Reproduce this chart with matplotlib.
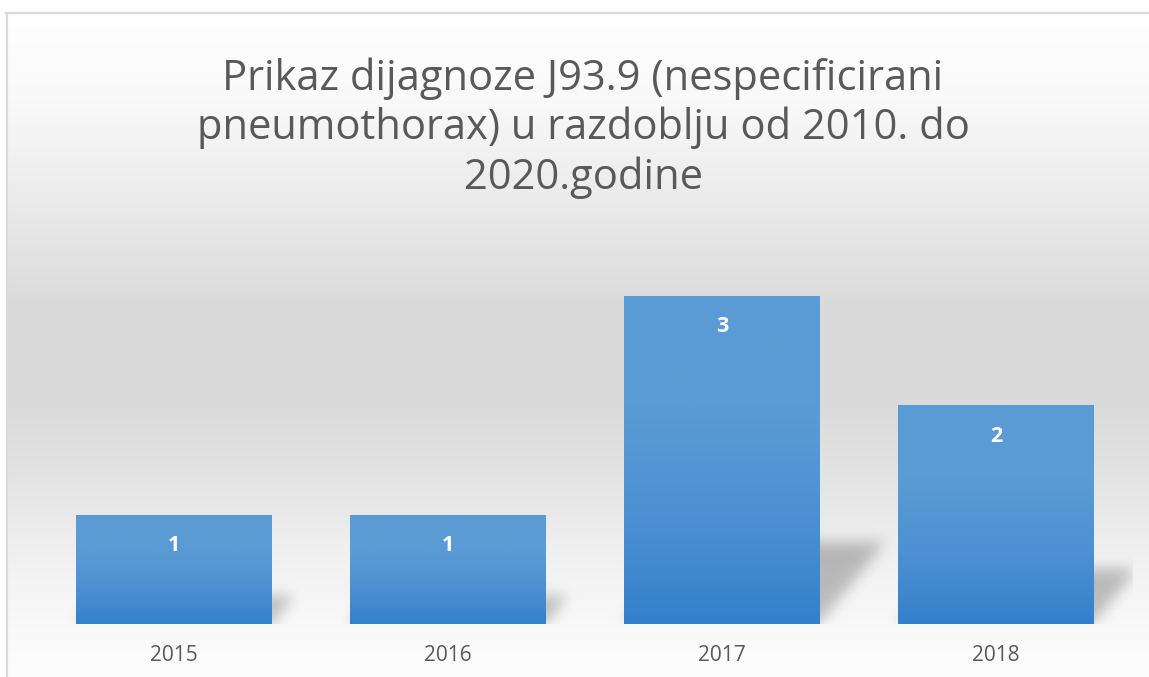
""" Bar chart: J93.9 diagnoses per year """

import numpy as np
import matplotlib
matplotlib.use('Agg')
import matplotlib.pyplot as plt
from matplotlib.colors import LinearSegmentedColormap

years = ['2015', '2016', '2017', '2018']
counts = [1, 1, 3, 2]
title = 'Prikaz dijagnoze J93.9 (nespecificirani\npneumothorax) u razdoblju od 2010. do\n2020.godine'

W, H = 1149, 677
plt.rcParams['font.family'] = ['Open Sans', 'DejaVu Sans']

fig = plt.figure(figsize=(W / 100, H / 100), dpi=100)

# background gradient + frame, in pixel coordinates
bg = fig.add_axes([0, 0, 1, 1], zorder=-10)
rows = np.arange(H)
gray = np.interp(rows, [13, 100, 220, 300, 400, 470, 540, 600, 650, 677],
                 [255, 249, 232, 219, 218, 226, 238, 246, 251, 253]) / 255.0
bg_img = gray[:, None, None].repeat(2, axis=1).repeat(3, axis=2)
bg.imshow(bg_img, extent=[0, W, H, 0], aspect='auto', interpolation='bilinear')
bg.fill_between([0, W], 0, 13, color='white')
bg.fill_between([0, 6], 0, H, color='white')
bg.plot([6, W], [13, 13], color='#d9d9d9', lw=1.5)
bg.plot([6.5, 6.5], [13, H], color='#d9d9d9', lw=1.5)
bg.set_xlim(0, W)
bg.set_ylim(H, 0)
bg.axis('off')

# plot area
left, right, base, top = 37, 1133, 624, 241.5
ax = fig.add_axes([left / W, (H - base) / H, (right - left) / W, (base - top) / H])
ax.patch.set_alpha(0)
x = np.arange(len(years))
bar_w = 0.712
ymax = 3.5

# soft perspective shadows behind the bars
nx, ny = int(right - left), int(base - top)
gx = np.linspace(-0.5, 3.5, nx)
gy = np.linspace(0, ymax, ny)
XX, YY = np.meshgrid(gx, gy)
mask = np.zeros_like(XX)
for xi, v in zip(x, counts):
    dy = 0.25 * v
    dx = 0.08 * v
    t = np.clip(YY / dy, 0, 1)
    inside = (YY <= dy) & (XX >= xi - bar_w / 2 + t * dx) & (XX <= xi + bar_w / 2 + t * dx)
    mask[inside] = 1.0
sig = 7.0
k = np.arange(-21, 22)
kern = np.exp(-k ** 2 / (2 * sig ** 2))
kern /= kern.sum()
pad = np.pad(mask, ((21, 21), (21, 21)))
pad = np.apply_along_axis(lambda r: np.convolve(r, kern, mode='same'), 1, pad)
pad = np.apply_along_axis(lambda c: np.convolve(c, kern, mode='same'), 0, pad)
blur = pad[21:-21, 21:-21]
shadow = np.zeros((ny, nx, 4))
shadow[..., 3] = blur * 0.24
ax.imshow(shadow, extent=[-0.5, 3.5, 0, ymax], origin='lower', aspect='auto', zorder=1)

# bars with vertical gradient
bars = ax.bar(x, counts, width=bar_w, color='#4a8fd1', zorder=2)
cmap = LinearSegmentedColormap.from_list('bar', ['#3580cb', '#4d91d2', '#5b9bd5', '#5b9bd5'])
grad = np.linspace(0, 1, 256)[:, None]
for b, v in zip(bars, counts):
    im = ax.imshow(grad, cmap=cmap, extent=[b.get_x(), b.get_x() + b.get_width(), 0, v],
                   origin='lower', aspect='auto', zorder=3)
    im.set_clip_path(b)
    ax.text(b.get_x() + b.get_width() / 2, v - 0.28, str(v), ha='center', va='center',
            color='white', fontsize=15.5, fontweight='bold', zorder=4)

ax.set_xlim(-0.5, 3.5)
ax.set_ylim(0, ymax)
ax.set_xticks(x)
ax.set_xticklabels(years, fontsize=15, color='#595959')
ax.tick_params(axis='x', length=0, pad=15)
ax.set_yticks([])
for s in ax.spines.values():
    s.set_visible(False)

fig.text(583 / W, 1 - 128 / H, title, ha='center', va='center', fontsize=30,
         color='#595959', linespacing=1.22)

plt.savefig('out.png', dpi=100)
